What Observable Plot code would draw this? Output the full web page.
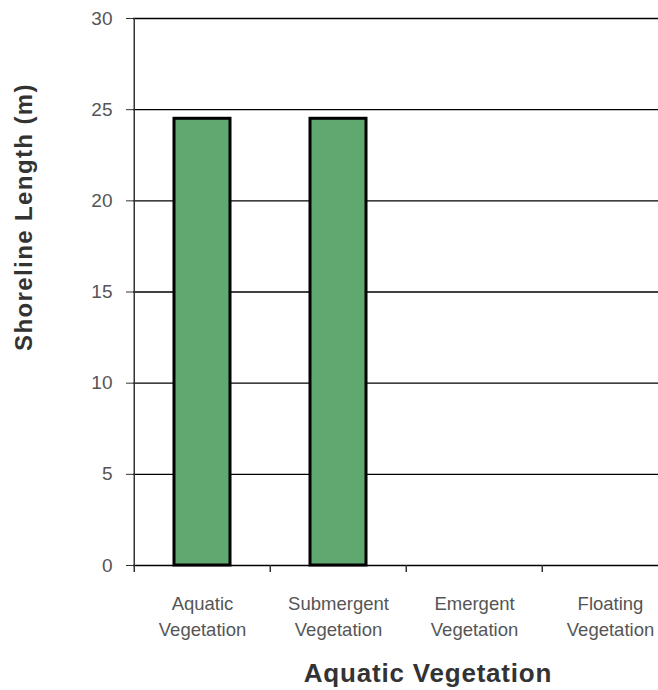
<!DOCTYPE html>
<html>
<head>
<meta charset="utf-8">
<script src="https://cdn.jsdelivr.net/npm/d3@7"></script>
<script src="https://cdn.jsdelivr.net/npm/@observablehq/plot@0.6"></script>
<style>
  html, body { margin: 0; padding: 0; background: #fff; }
  #chart svg { display: block; }
</style>
</head>
<body>
<div id="chart"></div>
<script>
const categories = ["Aquatic\nVegetation", "Submergent\nVegetation", "Emergent\nVegetation", "Floating\nVegetation"];
const values = [24.5, 24.5, 0, 0];
const yTicks = [0, 5, 10, 15, 20, 25, 30];
const yTitle = "Shoreline Length (m)";
const xTitle = "Aquatic Vegetation";

const data = categories.map((c, i) => ({category: c, value: values[i]}));
const tickFont = "'Liberation Sans', Arial, sans-serif";
const titleFont = "'Liberation Sans', Arial, sans-serif";
const step = (679 - 133) / categories.length;

const chart = Plot.plot({
  width: 658,
  height: 690,
  marginLeft: 133,
  marginRight: 0,
  marginTop: 18,
  marginBottom: 125,
  style: {background: "#fff", fontFamily: tickFont, overflow: "visible"},
  x: {domain: categories, range: [133, 679], paddingInner: 0.59, paddingOuter: 0.295},
  y: {domain: [0, 30]},
  marks: [
    Plot.ruleY(yTicks, {stroke: "#000", strokeWidth: 1.3}),
    Plot.barY(data, {x: "category", y: "value", fill: "#5fa870", stroke: "#000", strokeWidth: 3}),
    // y axis line and category boundary ticks
    Plot.ruleX([categories[0]], {x: d => d, dx: -step / 2, y1: -0.38, y2: 30, stroke: "#333", strokeWidth: 1.5}),
    Plot.ruleX(categories.slice(1), {x: d => d, dx: -step / 2, y1: -0.38, y2: 0, stroke: "#333", strokeWidth: 1.5}),
    Plot.axisY({ticks: yTicks, tickSize: 7, tickPadding: 14, fontSize: 19, fill: "#555", stroke: "#333", label: null}),
    Plot.axisX({tickSize: 0, tickPadding: 26, fontSize: 18.5, lineHeight: 1.4, fill: "#555", label: null}),
    Plot.text([yTitle], {frameAnchor: "left", dx: -109, dy: -75, rotate: -90, fontSize: 24, fontWeight: "bold", fill: "#333", fontFamily: titleFont, textAnchor: "middle", lineAnchor: "middle"}),
    Plot.text([xTitle], {frameAnchor: "bottom", dx: 32, dy: 108, fontSize: 26, fontWeight: "bold", fill: "#333", fontFamily: titleFont, textAnchor: "middle", lineAnchor: "middle"})
  ]
});
d3.select(chart).selectAll("text").filter(function() { return d3.select(this).text() === yTitle || d3.select(this).text() === xTitle; })
  .attr("letter-spacing", function() { return d3.select(this).text() === yTitle ? "1.4px" : "0.8px"; });
document.getElementById("chart").appendChild(chart);
</script>
</body>
</html>
